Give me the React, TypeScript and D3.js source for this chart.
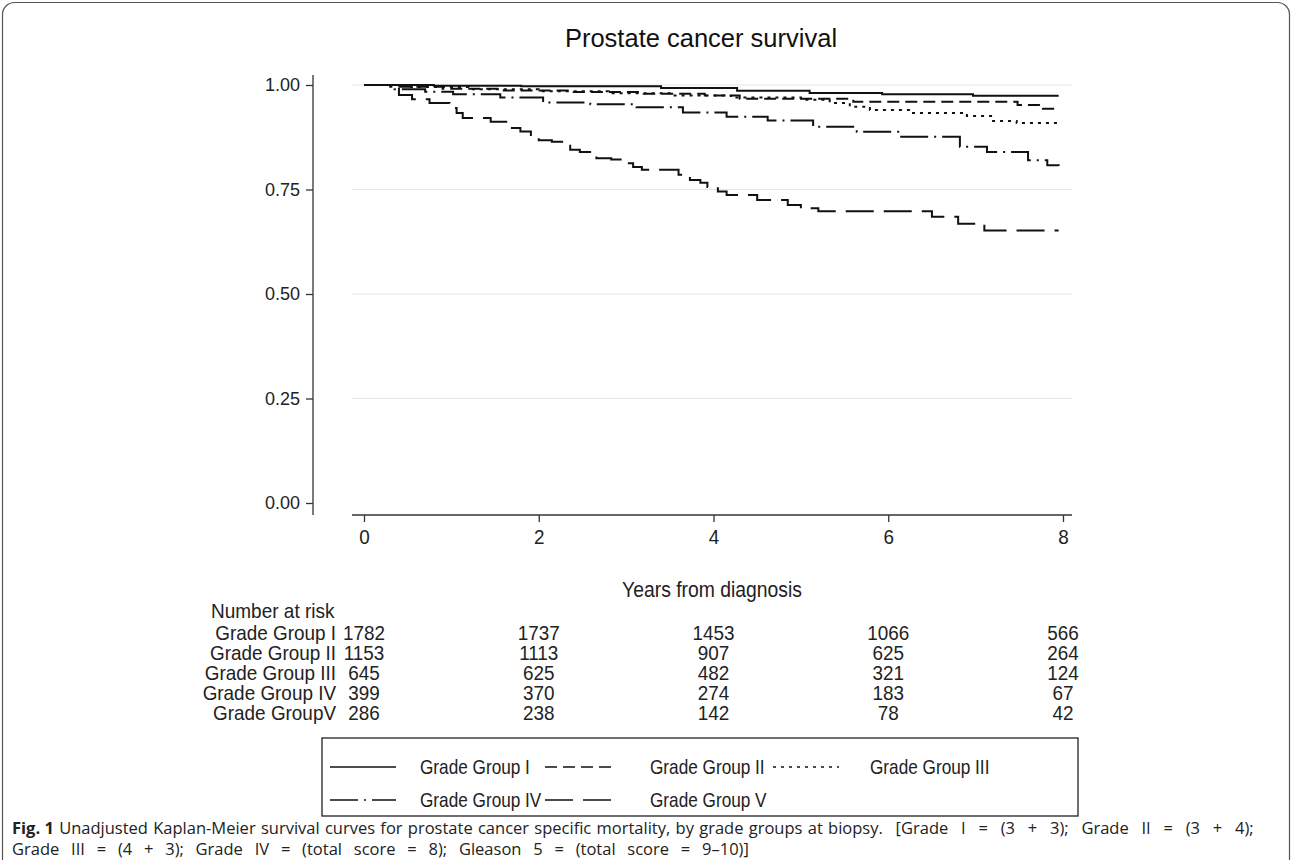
import { useEffect, useRef } from 'react';
import * as d3 from 'd3';

// x axis ticks (years) and y axis ticks (survival)
const yearTicks = [0, 2, 4, 6, 8];
const survTicks = [0, 0.25, 0.5, 0.75, 1];

const groupNames = ['Grade Group I', 'Grade Group II', 'Grade Group III', 'Grade Group IV', 'Grade Group V'];
const riskLabels = ['Grade Group I', 'Grade Group II', 'Grade Group III', 'Grade Group IV', 'Grade GroupV'];

// number at risk, at 0/2/4/6/8 years
const riskI = [1782, 1737, 1453, 1066, 566];
const riskII = [1153, 1113, 907, 625, 264];
const riskIII = [645, 625, 482, 321, 124];
const riskIV = [399, 370, 274, 183, 67];
const riskV = [286, 238, 142, 78, 42];

// Kaplan-Meier steps
const timeI = [0, 0.8, 1.8, 3.4, 4.27, 5.1, 5.93, 6.97, 7.95];
const survI = [1, 0.998, 0.997, 0.993, 0.986, 0.981, 0.978, 0.974, 0.974];

const timeII = [0, 0.3, 0.9, 1.6, 2.4, 3.2, 3.9, 4.3, 5.6, 7.48, 7.77, 7.95];
const survII = [1, 0.996, 0.991, 0.987, 0.983, 0.979, 0.975, 0.967, 0.96, 0.952, 0.943, 0.943];

const timeIII = [0, 0.5, 1.2, 2.0, 2.8, 3.5, 4.2, 5.0, 5.33, 5.56, 5.79, 6.25, 6.9, 7.2, 7.47, 7.95];
const survIII = [1, 0.995, 0.99, 0.985, 0.98, 0.975, 0.97, 0.965, 0.957, 0.948, 0.94, 0.933, 0.926, 0.914, 0.909, 0.909];

const timeIV = [0, 0.35, 0.7, 1.02, 1.56, 2.05, 2.59, 3.12, 3.65, 4.15, 4.62, 5.14, 5.64, 6.13, 6.82, 7.13, 7.6, 7.82, 7.95];
const survIV = [1, 0.99, 0.984, 0.978, 0.97, 0.958, 0.954, 0.947, 0.934, 0.924, 0.915, 0.9, 0.888, 0.876, 0.852, 0.84, 0.82, 0.808, 0.806];

const timeV = [0, 0.4, 0.55, 0.75, 0.98, 1.06, 1.13, 1.45, 1.68, 1.79, 1.91, 2.0, 2.15, 2.36, 2.47, 2.66, 2.83, 2.96, 3.08, 3.18, 3.6, 3.73, 3.85, 3.93, 4.05, 4.15, 4.5, 4.85, 5.0, 5.2, 6.5, 6.8, 7.1, 7.95];
const survV = [1, 0.976, 0.966, 0.957, 0.945, 0.933, 0.921, 0.912, 0.897, 0.889, 0.873, 0.868, 0.864, 0.845, 0.84, 0.825, 0.822, 0.813, 0.804, 0.797, 0.785, 0.773, 0.766, 0.756, 0.745, 0.737, 0.725, 0.713, 0.705, 0.698, 0.685, 0.668, 0.652, 0.652];

const dashes = ['none', '12,6', '3,5', '28,6,2,6', '28,10'];

const SANS = "'Liberation Sans', Arial, sans-serif";
const NARROW_X = 0.9; // no Arial Narrow offline: squeeze Liberation Sans instead

export default function App() {
  const ref = useRef<SVGSVGElement | null>(null);
  useEffect(() => {
    const svg = d3.select(ref.current!);
    svg.selectAll('*').remove();
    const W = 1292, H = 860;
    svg.attr('viewBox', `0 0 ${W} ${H}`);

    svg.append('rect').attr('x', 2.5).attr('y', 2.5).attr('width', W - 5).attr('height', H + 20)
      .attr('rx', 12).attr('fill', 'white').attr('stroke', '#555').attr('stroke-width', 1.2);

    const x = d3.scaleLinear().domain([0, 8]).range([364, 1063]);
    const y = d3.scaleLinear().domain([0, 1]).range([503, 85]);
    const plotL = 352, plotR = 1072, axisY = 515, axisX = 313;

    const narrow = (px: number, py: number, txt: string | number, size: number, anchor = 'start', sx = NARROW_X) =>
      svg.append('text').attr('transform', `translate(${px},${py}) scale(${sx},1)`)
        .attr('text-anchor', anchor).attr('font-family', SANS).attr('font-size', size).attr('fill', '#222').text(txt);

    svg.append('text').attr('x', 701).attr('y', 47).attr('text-anchor', 'middle')
      .attr('font-family', SANS).attr('font-size', 25.5).attr('fill', '#111').text('Prostate cancer survival');

    // grid
    svg.selectAll('.grid').data(survTicks.filter((d) => d > 0)).enter().append('line')
      .attr('x1', plotL).attr('x2', plotR).attr('y1', (d) => y(d)).attr('y2', (d) => y(d))
      .attr('stroke', '#e6e6e6').attr('stroke-width', 1.2);

    // y axis
    const ya = svg.append('g').attr('transform', `translate(${axisX},0)`)
      .call(d3.axisLeft(y).tickValues(survTicks).tickFormat(d3.format('.2f')).tickSize(7).tickPadding(6).tickSizeOuter(0));
    ya.select('.domain').attr('d', `M0,75V${axisY}`).attr('stroke', '#333').attr('stroke-width', 1.3);
    ya.selectAll('.tick line').attr('stroke', '#333').attr('stroke-width', 1.3);
    ya.selectAll('text').attr('font-size', 18).attr('font-family', SANS).attr('fill', '#222');

    // x axis
    const xa = svg.append('g').attr('transform', `translate(0,${axisY})`)
      .call(d3.axisBottom(x).tickValues(yearTicks).tickFormat(d3.format('d')).tickSize(7).tickPadding(7).tickSizeOuter(0));
    xa.select('.domain').attr('d', `M${plotL},0H${plotR}`).attr('stroke', '#333').attr('stroke-width', 1.3);
    xa.selectAll('.tick line').attr('stroke', '#333').attr('stroke-width', 1.3);
    xa.selectAll('text').attr('font-size', 21).attr('font-family', SANS).attr('fill', '#222')
      .attr('transform', `scale(${NARROW_X},1)`);

    narrow(712, 597, 'Years from diagnosis', 21.5, 'middle');

    // curves
    const series = [
      [timeI, survI], [timeII, survII], [timeIII, survIII], [timeIV, survIV], [timeV, survV],
    ];
    const line = d3.line<[number, number]>().x((d) => x(d[0])).y((d) => y(d[1])).curve(d3.curveStepAfter);
    series.forEach(([t, s], i) => {
      const pts = t.map((tt, j) => [tt, s[j]] as [number, number]);
      svg.append('path').datum(pts).attr('fill', 'none').attr('stroke', '#111').attr('stroke-width', 2)
        .attr('stroke-dasharray', dashes[i]).attr('d', line as any);
    });

    // number at risk table
    const risk = [riskI, riskII, riskIII, riskIV, riskV];
    narrow(211, 618, 'Number at risk', 20, 'start', 0.95);
    risk.forEach((row, i) => {
      const ry = 640 + i * 20;
      narrow(336, ry, riskLabels[i], 19.5, 'end', 0.97);
      row.forEach((v, j) => narrow(x(yearTicks[j]), ry, v, 19.5, 'middle', 0.97));
    });

    // legend
    const lg = svg.append('g');
    lg.append('rect').attr('x', 322).attr('y', 738).attr('width', 756).attr('height', 78)
      .attr('fill', 'white').attr('stroke', '#222').attr('stroke-width', 1.3);
    const cols = [330, 545, 773];
    const textOff = [90, 105, 97];
    groupNames.forEach((name, i) => {
      const cx = cols[i % 3], cy = i < 3 ? 767 : 800;
      lg.append('line').attr('x1', cx).attr('x2', cx + 66).attr('y1', cy).attr('y2', cy)
        .attr('stroke', '#111').attr('stroke-width', 1.6).attr('stroke-dasharray', dashes[i]);
      narrow(cx + textOff[i % 3], cy + 7, name, 20, 'start', 0.86);
    });

    // caption
    const CAP = "'Open Sans', sans-serif";
    const cap1 = svg.append('text').attr('x', 12).attr('y', 834).attr('font-family', CAP)
      .attr('font-size', 16.5).attr('fill', '#222');
    cap1.append('tspan').attr('font-weight', 'bold').text('Fig. 1');
    cap1.append('tspan').attr('word-spacing', 1).text(' Unadjusted Kaplan-Meier survival curves for prostate cancer specific mortality, by grade groups at biopsy.');
    cap1.append('tspan').attr('word-spacing', 8.5).text(' [Grade I = (3 + 3); Grade II = (3 + 4);');
    svg.append('text').attr('x', 12).attr('y', 855).attr('font-family', CAP)
      .attr('font-size', 16.5).attr('fill', '#222').attr('word-spacing', 7.5)
      .text('Grade III = (4 + 3); Grade IV = (total score = 8); Gleason 5 = (total score = 9–10)]');
  }, []);
  return <svg ref={ref} width={1292} height={860} style={{ position: 'absolute', left: 0, top: 0 }} />;
}
